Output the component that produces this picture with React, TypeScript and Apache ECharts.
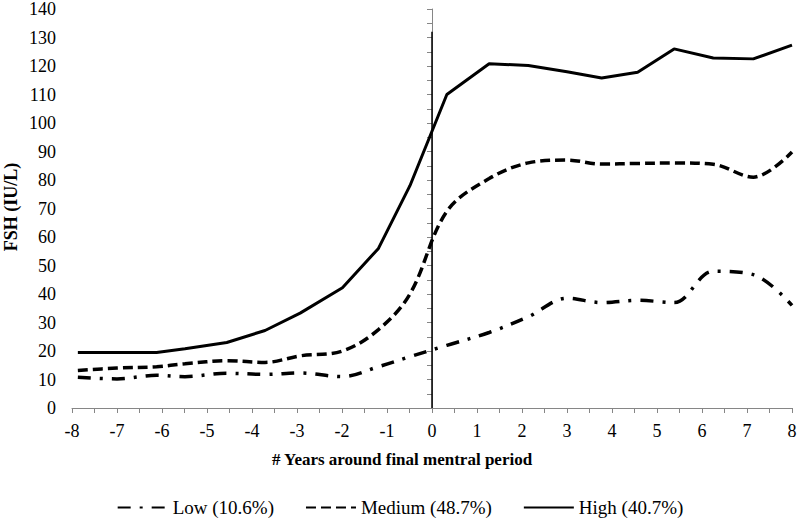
import React, { useEffect, useRef } from "react";
import * as echarts from "echarts";

const years = [-7.87, -7.0, -6.12, -5.49, -4.56, -3.71, -2.93, -1.99, -1.19, -0.49, 0.33, 1.27, 2.14, 3.0, 3.77, 4.57, 5.38, 6.25, 7.14, 8.0];
const lowValues = [10.8, 10.2, 11.5, 11.0, 12.2, 11.8, 12.3, 11.0, 14.5, 18.0, 22.0, 26.5, 32.0, 38.5, 37.0, 37.8, 37.0, 48.0, 46.8, 36.0];
const mediumValues = [13.2, 14.0, 14.5, 15.5, 16.6, 16.0, 18.3, 20.0, 27.5, 40.0, 69.0, 80.5, 86.0, 87.0, 85.6, 85.8, 86.0, 85.5, 81.0, 89.8];
const highValues = [19.5, 19.5, 19.5, 20.8, 23.0, 27.2, 33.3, 42.2, 56.0, 78.0, 110.0, 120.8, 120.2, 118.0, 115.8, 117.8, 126.0, 122.8, 122.5, 127.3];
const seriesNames = ["Low (10.6%)", "Medium (48.7%)", "High (40.7%)"];
const xTitle = "# Years around final mentral period";
const yTitle = "FSH (IU/L)";
const markerTop = 132;

const FONT = "Liberation Serif";
const AXIS_GRAY = "#868686";

function pairs(vals: number[]) {
  return years.map((x, i) => [x, vals[i]]);
}

export default function App() {
  const ref = useRef<HTMLDivElement>(null);
  useEffect(() => {
    if (!ref.current) return;
    const chart = echarts.init(ref.current, undefined, { renderer: "svg" });
    chart.setOption({
      animation: false,
      backgroundColor: "#fff",
      textStyle: { fontFamily: FONT },
      grid: { left: 72, right: 8, top: 8, bottom: 114, containLabel: false },
      xAxis: {
        type: "value",
        min: -8,
        max: 8,
        interval: 1,
        axisLine: { show: true, onZero: false, lineStyle: { color: AXIS_GRAY, width: 1 } },
        axisTick: { show: true, inside: false, length: 5, lineStyle: { color: AXIS_GRAY } },
        minorTick: { show: true, splitNumber: 2, length: 5, lineStyle: { color: AXIS_GRAY } },
        splitLine: { show: false },
        minorSplitLine: { show: false },
        axisLabel: { color: "#000", fontFamily: FONT, fontSize: 18, margin: 14, showMaxLabel: true },
      },
      yAxis: {
        type: "value",
        min: 0,
        max: 140,
        interval: 10,
        axisLine: { show: true, lineStyle: { color: AXIS_GRAY, width: 1 } },
        axisTick: { show: true, inside: false, length: 5, lineStyle: { color: AXIS_GRAY } },
        minorTick: { show: true, splitNumber: 2, length: 5, lineStyle: { color: AXIS_GRAY } },
        splitLine: { show: false },
        axisLabel: { color: "#000", fontFamily: FONT, fontSize: 18, margin: 16 },
      },
      legend: {
        left: "center",
        top: 493,
        itemWidth: 50,
        itemHeight: 14,
        itemGap: 31,
        itemStyle: { opacity: 0 },
        textStyle: { color: "#000", fontFamily: FONT, fontSize: 19 },
        data: seriesNames,
      },
      graphic: [
        {
          type: "text",
          x: 11,
          y: 207,
          rotation: Math.PI / 2,
          style: {
            text: yTitle,
            fill: "#000",
            fontFamily: FONT,
            fontSize: 18,
            fontWeight: "bold",
            textAlign: "center",
            textVerticalAlign: "middle",
          },
        },
        {
          type: "text",
          x: 402,
          y: 459,
          style: {
            text: xTitle,
            fill: "#000",
            fontFamily: FONT,
            fontSize: 17,
            fontWeight: "bold",
            textAlign: "center",
            textVerticalAlign: "middle",
          },
        },
      ],
      series: [
        {
          name: seriesNames[0],
          type: "line",
          data: pairs(lowValues),
          smooth: 0.35,
          symbol: "none",
          lineStyle: { color: "#000", width: 3.5, type: [13, 9, 3, 9] },
          itemStyle: { color: "#000" },
        },
        {
          name: seriesNames[1],
          type: "line",
          data: pairs(mediumValues),
          smooth: 0.35,
          symbol: "none",
          lineStyle: { color: "#000", width: 3.5, type: [10, 5] },
          itemStyle: { color: "#000" },
        },
        {
          name: seriesNames[2],
          type: "line",
          data: pairs(highValues),
          smooth: false,
          symbol: "none",
          lineStyle: { color: "#000", width: 3, type: "solid" },
          itemStyle: { color: "#000" },
          markLine: {
            silent: true,
            symbol: ["none", "none"],
            label: { show: false },
            lineStyle: { color: "#000", width: 1.5, type: "solid" },
            data: [[{ coord: [0, 0] }, { coord: [0, markerTop] }]],
          },
        },
      ],
    });
    return () => chart.dispose();
  }, []);
  return (
    <div
      ref={ref}
      style={{ position: "absolute", left: 0, top: 0, width: 800, height: 522 }}
    />
  );
}
